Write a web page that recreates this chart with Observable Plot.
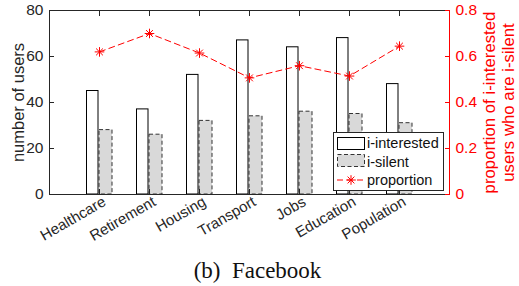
<!DOCTYPE html>
<html><head><meta charset="utf-8">
<script src="https://cdn.jsdelivr.net/npm/d3@7"></script>
<script src="https://cdn.jsdelivr.net/npm/@observablehq/plot@0.6"></script>
<style>
html,body{margin:0;padding:0;background:#fff;}
#wrap{position:relative;width:519px;height:286px;overflow:hidden;font-family:"Liberation Sans",Arial,sans-serif;}
#caption{position:absolute;left:0;top:259px;width:515px;text-align:center;font-family:"Liberation Serif","Times New Roman",serif;font-size:23px;line-height:23px;color:#111;white-space:pre;}
#legend{position:absolute;left:333px;top:132px;}
</style></head><body>
<div id="wrap"><div id="chart"></div><svg id="legend" width="112" height="60"></svg><div id="caption"></div></div>
<script>
const categories = ["Healthcare","Retirement","Housing","Transport","Jobs","Education","Population"];
const interested = [45,37,52,67,64,68,48];
const silent = [28,26,32,34,36,35,31];
const proportion = [0.62,0.70,0.615,0.507,0.56,0.515,0.645];
const leftTicks = [0,20,40,60,80];
const rightTicks = [0,0.2,0.4,0.6,0.8];
const seriesNames = ["i-interested","i-silent","proportion"];
const yLabelLeft = "number of users";
const yLabelRight = "proportion of i-interested\nusers who are i-silent";
const captionText = "(b)  Facebook";

const ink = "#262626", red = "#ff0000", gray = "#d9d9d9";
const leftMax = d3.max(leftTicks), rightMax = d3.max(rightTicks);
const k = leftMax / rightMax;
const xMax = categories.length + 1;
const data = categories.map((c, j) => ({i: j + 1, c, interested: interested[j], silent: silent[j], p: proportion[j]}));
const catIdx = data.map(d => d.i);

const star = {draw(ctx, size) {
  const r = Math.sqrt(size / Math.PI);
  for (let a = 0; a < 4; a++) {
    const t = a * Math.PI / 4;
    ctx.moveTo(r * Math.cos(t), r * Math.sin(t));
    ctx.lineTo(-r * Math.cos(t), -r * Math.sin(t));
  }
}};

const chart = Plot.plot({
  width: 519, height: 250,
  marginLeft: 49, marginRight: 70, marginTop: 10, marginBottom: 56,
  style: {fontFamily: "'Liberation Sans', Arial, sans-serif", color: ink, background: "white"},
  x: {domain: [0, xMax]},
  y: {domain: [0, leftMax]},
  marks: [
    Plot.rectY(data, {x1: d => d.i - 0.25, x2: d => d.i - 0.02, y: "interested", fill: "white", stroke: "black", strokeWidth: 1}),
    Plot.rectY(data, {x1: d => d.i, x2: d => d.i + 0.26, y: "silent", fill: gray, stroke: "#333", strokeWidth: 1, strokeDasharray: "4,2.5"}),
    Plot.line(data, {x: "i", y: d => d.p * k, stroke: red, strokeWidth: 1, strokeDasharray: "6,4"}),
    Plot.dot(data, {x: "i", y: d => d.p * k, symbol: star, r: 4.8, stroke: red, strokeWidth: 1, fill: "none"}),
    Plot.frame({stroke: ink}),
    Plot.ruleX([xMax], {stroke: red}),
    // left axis
    Plot.axisY({anchor: "left", ticks: leftTicks, tickSize: -5, tickFormat: () => "", label: null, stroke: ink}),
    Plot.axisY({anchor: "left", ticks: leftTicks, tickSize: 0, tickPadding: 6, fontSize: 15.5, label: null, fill: ink}),
    // right axis
    Plot.axisY({anchor: "right", ticks: leftTicks, tickSize: -5, tickFormat: () => "", label: null, stroke: red}),
    Plot.axisY({anchor: "right", ticks: rightTicks.map(t => t * k), tickSize: 0, tickPadding: 6, fontSize: 15.5, label: null, fill: red,
      tickFormat: v => { const t = v / k; return t === 0 ? "0" : t.toFixed(1); }}),
    // x axis
    Plot.axisX({anchor: "top", ticks: catIdx, tickSize: -5, tickFormat: () => "", label: null, stroke: ink}),
    Plot.axisX({anchor: "bottom", ticks: catIdx, tickSize: -5, tickFormat: () => "", label: null, stroke: ink}),
    Plot.axisX({anchor: "bottom", ticks: catIdx, tickSize: 0, tickPadding: 6, tickRotate: -30, dx: 5, fontSize: 15, label: null, fill: ink,
      tickFormat: i => categories[i - 1]}),
    // axis titles
    Plot.text([yLabelLeft], {frameAnchor: "left", rotate: -90, dx: -37, lineAnchor: "top", textAnchor: "middle", fontSize: 16.5, fill: ink}),
    Plot.text([yLabelRight], {frameAnchor: "right", rotate: -90, dx: 32, lineAnchor: "top", textAnchor: "middle", fontSize: 16.8, lineHeight: 1.12, fill: red})
  ]
});
document.getElementById("chart").appendChild(chart);

// legend
const lg = d3.select("#legend");
lg.append("rect").attr("x", 0.5).attr("y", 0.5).attr("width", 110).attr("height", 58).attr("fill", "white").attr("stroke", ink);
const rowY = [11, 29.5, 48];
lg.append("rect").attr("x", 4.5).attr("y", 5.5).attr("width", 27).attr("height", 12).attr("fill", "white").attr("stroke", "black");
lg.append("rect").attr("x", 4.5).attr("y", 22.5).attr("width", 27).attr("height", 12).attr("fill", gray).attr("stroke", "#333").attr("stroke-dasharray", "4,2.5");
lg.append("line").attr("x1", 4).attr("x2", 32).attr("y1", rowY[2]).attr("y2", rowY[2]).attr("stroke", red).attr("stroke-dasharray", "6,4");
lg.append("path").attr("transform", `translate(18,${rowY[2]})`).attr("d", d3.symbol(star, Math.PI * 4.8 * 4.8)()).attr("stroke", red).attr("fill", "none");
seriesNames.forEach((s, j) => {
  lg.append("text").attr("x", 34).attr("y", rowY[j]).attr("dy", "0.35em").attr("font-size", 14.5)
    .attr("font-family", "'Liberation Sans', Arial, sans-serif").attr("fill", "#111").text(s);
});
document.getElementById("caption").textContent = captionText;
</script>
</body></html>
